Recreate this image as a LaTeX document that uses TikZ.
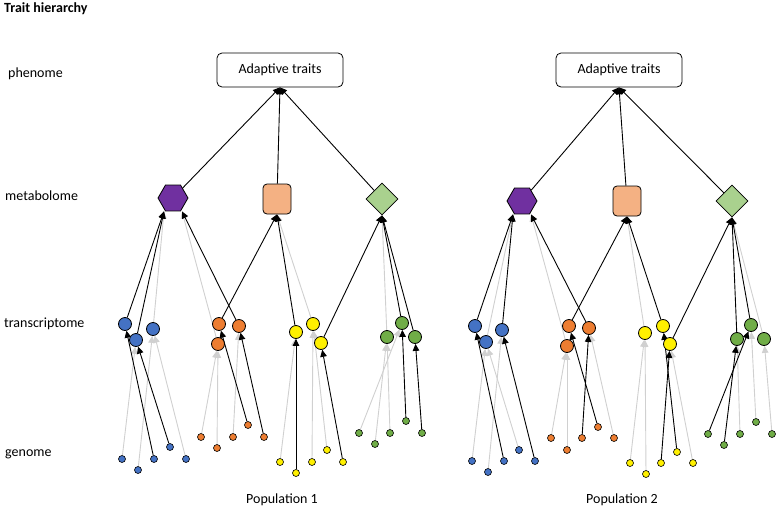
\documentclass[tikz,border=0pt]{standalone}
\usepackage{fontspec}
\setmainfont{Carlito}
\usetikzlibrary{shapes.geometric,arrows.meta}

\definecolor{cblue}{RGB}{68,114,196}
\definecolor{corange}{RGB}{237,125,49}
\definecolor{cyellow}{RGB}{255,240,0}
\definecolor{cgreen}{RGB}{112,173,71}
\definecolor{cpurple}{RGB}{112,48,160}
\definecolor{cpeach}{RGB}{244,177,131}
\definecolor{csage}{RGB}{169,209,142}
\definecolor{ltgray}{RGB}{208,208,208}

\pgfdeclarelayer{bg}
\pgfsetlayers{bg,main}

\tikzset{
  lbl/.style={anchor=base west,inner sep=0pt,font=\fontsize{14}{16}\selectfont},
  trait/.style={draw,line width=0.8pt,rounded corners=5pt,minimum width=126pt,minimum height=34pt,font=\fontsize{14}{16}\selectfont},
  hexa/.style={regular polygon,regular polygon sides=6,draw,line width=0.8pt,fill=cpurple,minimum size=30pt,inner sep=0pt},
  squa/.style={draw,line width=0.8pt,fill=cpeach,rounded corners=4pt,minimum width=28pt,minimum height=30pt,inner sep=0pt},
  diam/.style={diamond,draw,line width=0.8pt,fill=csage,minimum width=32pt,minimum height=32pt,inner sep=0pt},
  tx/.style={circle,draw,line width=0.8pt,fill=#1,minimum size=13pt,inner sep=0pt},
  gn/.style={circle,draw,line width=0.6pt,fill=#1,minimum size=7pt,inner sep=0pt},
  blk/.style={-{Triangle[length=7pt,width=6.5pt]},line width=0.9pt},
  gry/.style={blk,draw=ltgray}
}

\begin{document}
\begin{tikzpicture}[x=1pt,y=-1pt]
\useasboundingbox (0,0) rectangle (777,509);

\node[lbl,font=\fontsize{14}{16}\selectfont\bfseries] (title) at (4,12) {Trait hierarchy};
\node[lbl] (phen) at (8,77) {phenome};
\node[lbl] (meta) at (5,200) {metabolome};
\node[lbl] (tran) at (4,327) {transcriptome};
\node[lbl] (geno) at (5,456) {genome};
\node[font=\fontsize{14}{16}\selectfont,anchor=base] (pop1) at (282,503) {Population 1};
\node[font=\fontsize{14}{16}\selectfont,anchor=base] (pop2) at (622,503) {Population 2};

% population 1
\node[trait] (Lbox) at (280,70) {Adaptive traits};
\node[hexa] (Lhex) at (173,198) {};
\node[squa] (Lsq) at (277,199) {};
\node[diam] (Ldia) at (382,199) {};

\node[tx=cblue] (LB1) at (125,324) {};
\node[tx=cblue] (LB2) at (136,340) {};
\node[tx=cblue] (LB3) at (153,329) {};
\node[tx=corange] (LO1) at (219,324) {};
\node[tx=corange] (LO2) at (218,344) {};
\node[tx=corange] (LO3) at (239,326) {};
\node[tx=cyellow] (LY1) at (296,332) {};
\node[tx=cyellow] (LY2) at (313,324) {};
\node[tx=cyellow] (LY3) at (321,343) {};
\node[tx=cgreen] (LG1) at (387,337) {};
\node[tx=cgreen] (LG2) at (402,323) {};
\node[tx=cgreen] (LG3) at (415,337) {};

\node[gn=cblue] (Lb1) at (122,459) {};
\node[gn=cblue] (Lb2) at (138,470) {};
\node[gn=cblue] (Lb3) at (154,459) {};
\node[gn=cblue] (Lb4) at (170,447) {};
\node[gn=cblue] (Lb5) at (186,459) {};
\node[gn=corange] (Lo1) at (201,437) {};
\node[gn=corange] (Lo2) at (217,448) {};
\node[gn=corange] (Lo3) at (233,437) {};
\node[gn=corange] (Lo4) at (248,425) {};
\node[gn=corange] (Lo5) at (264,437) {};
\node[gn=cyellow] (Ly1) at (280,462) {};
\node[gn=cyellow] (Ly2) at (296,473) {};
\node[gn=cyellow] (Ly3) at (312,462) {};
\node[gn=cyellow] (Ly4) at (327,450) {};
\node[gn=cyellow] (Ly5) at (343,462) {};
\node[gn=cgreen] (Lg1) at (359,433) {};
\node[gn=cgreen] (Lg2) at (375,444) {};
\node[gn=cgreen] (Lg3) at (390,433) {};
\node[gn=cgreen] (Lg4) at (406,421) {};
\node[gn=cgreen] (Lg5) at (422,433) {};

% population 2
\node[trait] (Rbox) at (619,70) {Adaptive traits};
\node[hexa] (Rhex) at (522,201) {};
\node[squa] (Rsq) at (627,201) {};
\node[diam] (Rdia) at (732,201) {};

\node[tx=cblue] (RB1) at (475,326) {};
\node[tx=cblue] (RB2) at (486,342) {};
\node[tx=cblue] (RB3) at (502,330) {};
\node[tx=corange] (RO1) at (569,326) {};
\node[tx=corange] (RO2) at (567,346) {};
\node[tx=corange] (RO3) at (589,328) {};
\node[tx=cyellow] (RY1) at (645,333) {};
\node[tx=cyellow] (RY2) at (663,326) {};
\node[tx=cyellow] (RY3) at (670,344) {};
\node[tx=cgreen] (RG1) at (737,339) {};
\node[tx=cgreen] (RG2) at (751,325) {};
\node[tx=cgreen] (RG3) at (764,339) {};

\node[gn=cblue] (Rb1) at (472,461) {};
\node[gn=cblue] (Rb2) at (488,472) {};
\node[gn=cblue] (Rb3) at (504,461) {};
\node[gn=cblue] (Rb4) at (519,450) {};
\node[gn=cblue] (Rb5) at (535,461) {};
\node[gn=corange] (Ro1) at (551,438) {};
\node[gn=corange] (Ro2) at (567,450) {};
\node[gn=corange] (Ro3) at (582,438) {};
\node[gn=corange] (Ro4) at (598,427) {};
\node[gn=corange] (Ro5) at (614,438) {};
\node[gn=cyellow] (Ry1) at (630,463) {};
\node[gn=cyellow] (Ry2) at (646,474) {};
\node[gn=cyellow] (Ry3) at (661,463) {};
\node[gn=cyellow] (Ry4) at (677,452) {};
\node[gn=cyellow] (Ry5) at (693,463) {};
\node[gn=cgreen] (Rg1) at (708,434) {};
\node[gn=cgreen] (Rg2) at (724,445) {};
\node[gn=cgreen] (Rg3) at (740,434) {};
\node[gn=cgreen] (Rg4) at (756,422) {};
\node[gn=cgreen] (Rg5) at (772,434) {};

\begin{pgfonlayer}{bg}
% faint links first
\draw[gry] (LB3) -- ([xshift=-9pt]Lhex.south);
\draw[gry] (LO2) -- ([xshift=9pt]Lhex.south);
\draw[gry] (LY2) -- (Lsq.south);
\draw[gry] (LG1) -- (Ldia.south);
\draw[gry] (Lb1) -- (LB2);
\draw[gry] (Lb2) -- (LB3);
\draw[gry] (Lb5) -- (LB3);
\draw[gry] (Lo1) -- (LO2);
\draw[gry] (Lo2) -- (LO2);
\draw[gry] (Lo3) -- (LO3);
\draw[gry] (Ly1) -- (LY1);
\draw[gry] (Ly3) -- (LY2);
\draw[gry] (Ly4) -- (LY2);
\draw[gry] (Lg1) -- (LG2);
\draw[gry] (Lg2) -- (LG1);
\draw[gry] (Lg3) -- (LG1);

\draw[gry] (RB2) -- ([xshift=-9pt]Rhex.south);
\draw[gry] (RO2) -- ([xshift=9pt]Rhex.south);
\draw[gry] (RY1) -- (Rsq.south);
\draw[gry] (RG3) -- (Rdia.south);
\draw[gry] (Rb1) -- (RB2);
\draw[gry] (Rb2) -- (RB3);
\draw[gry] (Rb4) -- (RB2);
\draw[gry] (Ro1) -- (RO2);
\draw[gry] (Ro2) -- (RO2);
\draw[gry] (Ro5) -- (RO3);
\draw[gry] (Ry1) -- (RY1);
\draw[gry] (Ry2) -- (RY1);
\draw[gry] (Ry5) -- (RY3);
\draw[gry] (Rg3) -- (RG1);
\draw[gry] (Rg4) -- (RG2);
\draw[gry] (Rg5) -- (RG3);

% strong links
\draw[blk] (Lhex) -- (Lbox.south);
\draw[blk] (Lsq) -- (Lbox.south);
\draw[blk] (Ldia) -- (Lbox.south);
\draw[blk] (LB1) -- ([xshift=-9pt]Lhex.south);
\draw[blk] (LB2) -- ([xshift=-9pt]Lhex.south);
\draw[blk] (LO3) -- ([xshift=9pt]Lhex.south);
\draw[blk] (LO1) -- (Lsq.south);
\draw[blk] (LY1) -- (Lsq.south);
\draw[blk] (LY3) -- (Ldia.south);
\draw[blk] (LG2) -- (Ldia.south);
\draw[blk] (LG3) -- (Ldia.south);
\draw[blk] (Lb3) -- (LB1);
\draw[blk] (Lb4) -- (LB2);
\draw[blk] (Lo4) -- (LO1);
\draw[blk] (Lo5) -- (LO3);
\draw[blk] (Ly2) -- (LY1);
\draw[blk] (Ly5) -- (LY3);
\draw[blk] (Lg4) -- (LG2);
\draw[blk] (Lg5) -- (LG3);

\draw[blk] (Rhex) -- (Rbox.south);
\draw[blk] (Rsq) -- (Rbox.south);
\draw[blk] (Rdia) -- (Rbox.south);
\draw[blk] (RB1) -- ([xshift=-9pt]Rhex.south);
\draw[blk] (RB3) -- ([xshift=-9pt]Rhex.south);
\draw[blk] (RO3) -- ([xshift=9pt]Rhex.south);
\draw[blk] (RO1) -- (Rsq.south);
\draw[blk] (RY2) -- (Rsq.south);
\draw[blk] (RY3) -- (Rdia.south);
\draw[blk] (RG1) -- (Rdia.south);
\draw[blk] (RG2) -- (Rdia.south);
\draw[blk] (Rb3) -- (RB1);
\draw[blk] (Rb5) -- (RB3);
\draw[blk] (Ro4) -- (RO1);
\draw[blk] (Ro3) -- (RO3);
\draw[blk] (Ry3) -- (RY3);
\draw[blk] (Ry4) -- (RY2);
\draw[blk] (Rg1) -- (RG2);
\draw[blk] (Rg2) -- (RG1);
\end{pgfonlayer}

\end{tikzpicture}
\end{document}
